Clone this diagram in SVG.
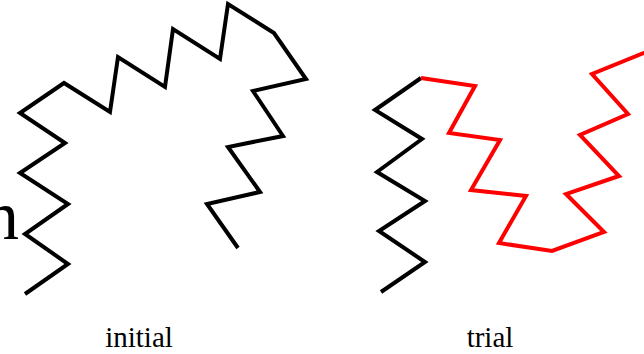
<svg xmlns="http://www.w3.org/2000/svg" width="644" height="354" viewBox="0 0 644 354">
<style>
.chain{fill:none;stroke-width:4;stroke-linejoin:miter;stroke-linecap:butt}
.blk{stroke:#000}
.red{stroke:#ff0000}
.lbl{font-family:"Liberation Serif","Times New Roman",serif;font-size:29px;fill:#000;text-anchor:middle}
</style>
<rect width="644" height="354" fill="#fff"/>
<text x="-16" y="239" style="font-family:'Liberation Serif',serif;font-size:70px;fill:#000">n</text>
<g id="connectors">
<g id="initial-chain">
<polyline class="chain blk" points="25,294 68,264 25,234 68,204 20,173 65,143 20,113 64,83 110,112 118,57 165,87 173,29 220,59 228,4 274,33 306,79 253,91 283,136 228,147 260,192 207,204 238,248"/>
</g>
<g id="trial-chain">
<polyline class="chain blk" points="381,292 425,262 379,231 425,201 377,172 422,139 375,110 421,78"/>
<polyline class="chain red" points="421,78 475,86 449,133 500,140 471,190 526,196 499,243 552,251 604,232 566,194 619,176 580,135 628,114 592,74 646,52"/>
</g>
</g>
<g id="label-initial"><text class="lbl" x="139" y="347">initial</text></g>
<g id="label-trial"><text class="lbl" x="490" y="347">trial</text></g>
</svg>
